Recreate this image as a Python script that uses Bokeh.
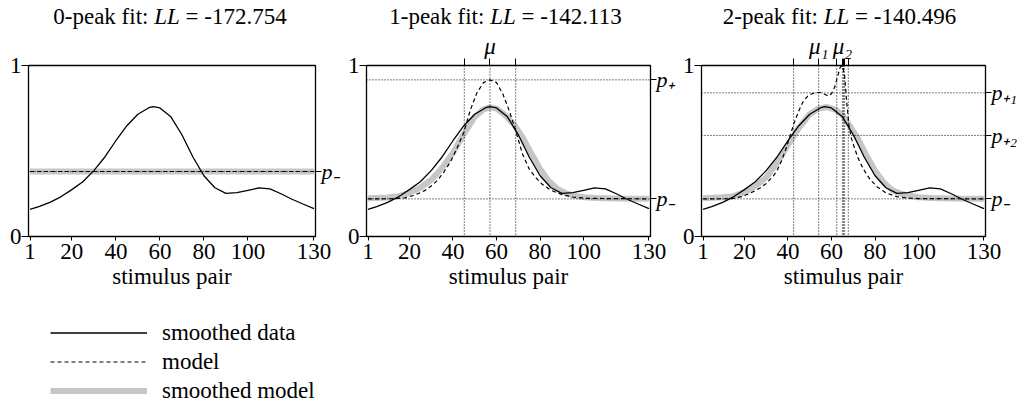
from bokeh.plotting import figure
from bokeh.models import Range1d, LinearAxis, FixedTicker, Span, Legend, LegendItem, Div
from bokeh.layouts import row, column
from bokeh.embed import file_html
from bokeh.resources import INLINE

FONT = "Liberation Serif"

# ---------------- data ----------------
x_ticks = [1, 20, 40, 60, 80, 100, 130]
y_ticks = [0, 1]
fit_names = ["0-peak fit:", "1-peak fit:", "2-peak fit:"]
fit_ll = ["-172.754", "-142.113", "-140.496"]
legend_labels = ["smoothed data", "model", "smoothed model"]

stim_x = [1, 5, 10, 15, 20, 25, 30, 35, 40, 45, 50, 55, 57, 60, 65, 70, 75, 80,
          85, 90, 95, 100, 105, 110, 115, 120, 125, 130]
smoothed_data = [0.158, 0.175, 0.200, 0.232, 0.274, 0.320, 0.385, 0.465, 0.560,
                 0.648, 0.715, 0.753, 0.760, 0.752, 0.700, 0.595, 0.465, 0.355,
                 0.285, 0.252, 0.256, 0.270, 0.284, 0.279, 0.250, 0.218, 0.190, 0.163]

# 0-peak fit
model0_x = [1, 130]
model0_y = [0.380, 0.380]
smodel0_x = [1, 130]
smodel0_y = [0.380, 0.380]
p_levels0 = [0.380]
p_labels0 = ["p\u208b"]

# 1-peak fit
model1_x = [1, 12, 18, 22, 27, 30, 33, 36, 39, 42, 45, 48, 51, 54, 57, 60, 63, 66,
            69, 72, 75, 78, 81, 85, 90, 95, 102, 130]
model1_y = [0.220, 0.221, 0.226, 0.240, 0.268, 0.295, 0.330, 0.380, 0.440, 0.520,
            0.610, 0.740, 0.840, 0.900, 0.916, 0.900, 0.830, 0.730, 0.610, 0.480,
            0.395, 0.345, 0.305, 0.270, 0.245, 0.231, 0.223, 0.220]
smodel1_x = [1, 10, 15, 20, 25, 30, 35, 40, 45, 50, 54, 57, 60, 64, 68, 72, 76, 80,
             84, 88, 92, 96, 100, 106, 115, 130]
smodel1_y = [0.224, 0.228, 0.236, 0.255, 0.285, 0.330, 0.400, 0.490, 0.600, 0.700,
             0.743, 0.755, 0.748, 0.710, 0.655, 0.580, 0.485, 0.395, 0.325, 0.278,
             0.252, 0.238, 0.230, 0.225, 0.222, 0.221]
p_levels1 = [0.916, 0.220]
p_labels1 = ["p\u208a", "p\u208b"]
mu_lines1 = [45.2, 57.0, 68.8]
mu_labels1 = {57.0: "\u03bc"}

# 2-peak fit
model2_x = [1, 14, 19, 23, 27, 30, 33, 35, 37, 39, 41, 43, 45, 47, 49, 51, 53, 55,
            57, 58.5, 60, 61.5, 63, 64, 65, 66, 67, 68, 69, 70.5, 72, 74, 76, 78,
            81, 85, 90, 95, 100, 130]
model2_y = [0.220, 0.221, 0.234, 0.255, 0.282, 0.310, 0.350, 0.385, 0.440, 0.510,
            0.590, 0.670, 0.735, 0.790, 0.820, 0.835, 0.842, 0.842, 0.830, 0.822,
            0.835, 0.875, 0.945, 0.990, 1.000, 0.940, 0.780, 0.650, 0.580, 0.520,
            0.465, 0.410, 0.365, 0.330, 0.290, 0.255, 0.233, 0.225, 0.222, 0.220]
smodel2_x = [1, 10, 15, 20, 25, 30, 35, 40, 45, 50, 54, 58, 62, 65, 68, 72, 76, 80,
             84, 88, 92, 96, 100, 106, 115, 130]
smodel2_y = [0.224, 0.229, 0.236, 0.258, 0.295, 0.345, 0.430, 0.535, 0.635, 0.715,
             0.748, 0.757, 0.740, 0.710, 0.655, 0.575, 0.475, 0.385, 0.315, 0.270,
             0.250, 0.238, 0.230, 0.225, 0.222, 0.221]
p_levels2 = [0.840, 0.591, 0.220]
p_labels2 = ["p\u208a\u2081", "p\u208a\u2082", "p\u208b"]
mu_lines2 = [42.6, 54.1, 62.4, 65.0, 65.5, 66.0, 67.7]
mu_labels2 = {54.1: "\u03bc\u2081", 65.0: "\u03bc\u2082"}

X_LO, X_HI = 0.3, 130.7

DATA_STYLE = dict(line_color="black", line_width=1.3)
MODEL_STYLE = dict(line_color="black", line_width=1.2, line_dash="4 3")
SMOOTH_STYLE = dict(line_color="#c6c6c6", line_width=6)


def clean_axis(ax, tick_out):
    ax.major_tick_out = tick_out
    ax.major_tick_in = 0
    ax.minor_tick_out = 0
    ax.minor_tick_in = 0
    ax.axis_line_color = None
    ax.major_tick_line_color = "black"
    ax.major_label_text_font = FONT
    ax.major_label_text_color = "black"


def make_panel(width, left, right, mx, my, sx, sy, p_levels, p_labels,
               mu_lines=None, mu_labels=None):
    p = figure(width=width, height=270, x_range=Range1d(X_LO, X_HI), y_range=Range1d(0, 1),
               min_border_left=left, min_border_right=right, min_border_top=35,
               min_border_bottom=64, output_backend="svg", toolbar_location=None,
               background_fill_color="white", border_fill_color="white",
               outline_line_color="black", outline_line_width=1.3)
    p.grid.visible = False

    xa = p.xaxis[0]
    xa.ticker = FixedTicker(ticks=x_ticks)
    clean_axis(xa, 4)
    xa.major_label_text_font_size = "23px"
    xa.major_label_standoff = 3
    xa.axis_label = "stimulus pair"
    xa.axis_label_text_font = FONT
    xa.axis_label_text_font_size = "23px"
    xa.axis_label_text_font_style = "normal"
    xa.axis_label_text_color = "black"
    xa.axis_label_standoff = 2

    ya = p.yaxis[0]
    ya.ticker = FixedTicker(ticks=y_ticks)
    clean_axis(ya, 7)
    ya.major_label_text_font_size = "23px"
    ya.major_label_standoff = 0

    ra = LinearAxis(ticker=FixedTicker(ticks=p_levels))
    clean_axis(ra, 6)
    ra.major_label_text_font_size = "22px"
    ra.major_label_text_font_style = "italic"
    ra.major_label_standoff = 0
    ra.major_label_overrides = {lv: lab for lv, lab in zip(p_levels, p_labels)}
    p.add_layout(ra, "right")

    if mu_lines:
        ta = LinearAxis(ticker=FixedTicker(ticks=mu_lines))
        clean_axis(ta, 7)
        ta.major_label_text_font_size = "23px"
        ta.major_label_text_font_style = "italic"
        ta.major_label_standoff = 0
        ta.major_label_overrides = {m: mu_labels.get(m, "") for m in mu_lines}
        p.add_layout(ta, "above")

    p.line(sx, sy, **SMOOTH_STYLE)
    for lv in p_levels:
        p.add_layout(Span(location=lv, dimension="width", line_color="black",
                          line_dash="1 2", line_width=1))
    if mu_lines:
        for m in mu_lines:
            p.add_layout(Span(location=m, dimension="height", line_color="black",
                              line_dash="1 2", line_width=1))
    p.line(mx, my, **MODEL_STYLE)
    p.line(stim_x, smoothed_data, **DATA_STYLE)
    return p


def title_div(width, shift, idx):
    html = ('<div style="width:%dpx;text-align:center;font-family:\'Liberation Serif\';'
            'font-size:23px;line-height:23px;padding-top:5px;position:relative;left:%dpx;'
            'color:black;white-space:nowrap;">%s <i>LL</i> = %s</div>'
            % (width, shift, fit_names[idx], fit_ll[idx]))
    return Div(text=html, width=width, height=30, margin=0)


p1 = make_panel(344, 28, 29, model0_x, model0_y, smodel0_x, smodel0_y,
                p_levels0, p_labels0)
p2 = make_panel(335, 19, 29, model1_x, model1_y, smodel1_x, smodel1_y,
                p_levels1, p_labels1, mu_lines1, mu_labels1)
p3 = make_panel(343, 19, 37, model2_x, model2_y, smodel2_x, smodel2_y,
                p_levels2, p_labels2, mu_lines2, mu_labels2)

# legend area: the legend's sample renderers use the panel-1 series but lie
# outside this figure's visible range, so only the legend itself shows
lf = figure(width=344, height=107, x_range=Range1d(500, 501), y_range=Range1d(500, 501),
            min_border_left=0, min_border_right=0, min_border_top=0, min_border_bottom=0,
            output_backend="svg", toolbar_location=None, x_axis_type=None, y_axis_type=None,
            outline_line_color=None, background_fill_color="white", border_fill_color="white")
lf.grid.visible = False
ld = lf.line(stim_x, smoothed_data, **DATA_STYLE)
lm = lf.line(model0_x, model0_y, **MODEL_STYLE)
ls = lf.line(smodel0_x, smodel0_y, **SMOOTH_STYLE)
legend = Legend(items=[LegendItem(label=legend_labels[0], renderers=[ld]),
                       LegendItem(label=legend_labels[1], renderers=[lm]),
                       LegendItem(label=legend_labels[2], renderers=[ls])],
                location=(50, 2), glyph_width=97, glyph_height=29, label_height=29,
                label_standoff=15, spacing=0, padding=0, margin=0,
                border_line_alpha=0, background_fill_alpha=0,
                label_text_font=FONT, label_text_font_size="23px", label_text_color="black")
lf.add_layout(legend, "center")

titles = row(title_div(344, -2, 0), title_div(335, -6, 1), title_div(343, -11, 2))
layout = column(titles, row(p1, p2, p3), lf)
open("out.html", "w").write(file_html(layout, INLINE))
